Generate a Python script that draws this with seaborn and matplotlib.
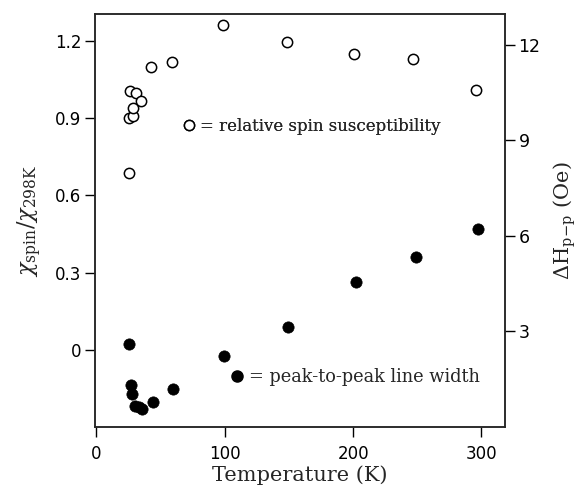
import numpy as np
import pandas as pd
import matplotlib
matplotlib.use('Agg')
import matplotlib.pyplot as plt
import seaborn as sns
from matplotlib.lines import Line2D

# relative spin susceptibility (left axis)
spin_T = [25.4, 25.6, 28.7, 26.4, 28.7, 31.0, 34.7, 42.5, 58.8, 98.4, 148.2, 201.0, 247.0, 295.8]
spin_chi = [0.687, 0.900, 0.908, 1.005, 0.939, 0.997, 0.966, 1.100, 1.120, 1.262, 1.195, 1.152, 1.130, 1.010]

# peak-to-peak line width (right axis, Oe)
width_T = [25.6, 26.7, 27.7, 30.3, 32.9, 35.5, 44.0, 60.0, 99.5, 149.4, 202.6, 248.6, 297.0]
width_H = [2.61, 1.30, 1.04, 0.66, 0.61, 0.57, 0.78, 1.20, 2.24, 3.13, 4.54, 5.35, 6.22]

x_ticks = [0, 100, 200, 300]
left_ticks = [0, 0.3, 0.6, 0.9, 1.2]
right_ticks = [3, 6, 9, 12]

df_spin = pd.DataFrame({'T': spin_T, 'chi': spin_chi})
df_width = pd.DataFrame({'T': width_T, 'H': width_H})

sns.set_style('ticks')
plt.rcParams['font.family'] = ['DejaVu Sans']
plt.rcParams['mathtext.fontset'] = 'dejavuserif'
plt.rcParams['axes.linewidth'] = 1.1

fig = plt.figure(figsize=(5.84, 4.90), dpi=100)
ax = fig.add_axes([0.163, 0.129, 0.701, 0.842])
ax2 = ax.twinx()

sns.scatterplot(data=df_spin, x='T', y='chi', ax=ax, marker='o', s=55,
                facecolor='white', edgecolor='black', linewidth=1.1, zorder=3)
sns.scatterplot(data=df_width, x='T', y='H', ax=ax2, marker='o', s=66,
                color='black', edgecolor='black', linewidth=0.5, zorder=3)

ax.set_xlim(-1, 318)
ax.set_ylim(-0.3, 1.305)
ax2.set_ylim(0.0, 12.97)

ax.set_xticks(x_ticks)
ax.set_yticks(left_ticks)
ax.set_yticklabels(['0', '0.3', '0.6', '0.9', '1.2'])
ax2.set_yticks(right_ticks)

for a in (ax, ax2):
    a.tick_params(direction='out', length=7, width=1.0, labelsize=12, colors='black')
    for s in a.spines.values():
        s.set_visible(True)
        s.set_linewidth(1.1)
ax.tick_params(axis='x', pad=6)
ax.tick_params(axis='y', pad=3)
ax2.tick_params(axis='y', pad=3, labelsize=12.5)

ax.set_xlabel('Temperature (K)', family='DejaVu Serif', fontsize=15, labelpad=2)
ax.set_ylabel(r'$\chi_{\rm spin}/\chi_{\rm 298K}$', fontsize=16, labelpad=8)
ax2.set_ylabel(r'$\Delta \mathrm{H}_{\rm p\!-\!p}$ (Oe)', family='DejaVu Serif', fontsize=15, labelpad=8)

h1 = Line2D([], [], linestyle='none', marker='o', markersize=7.3,
            markerfacecolor='white', markeredgecolor='black', markeredgewidth=1.1)
h2 = Line2D([], [], linestyle='none', marker='o', markersize=8.0,
            markerfacecolor='black', markeredgecolor='black')
leg1 = ax.legend([h1], ['= relative spin susceptibility'], loc='center left',
                 bbox_to_anchor=(0.217, 0.728), frameon=False, handlelength=0.6,
                 handletextpad=0.35, borderpad=0, borderaxespad=0,
                 prop={'family': 'DejaVu Serif', 'size': 12})
ax.add_artist(leg1)
ax2.legend([h2], ['= peak-to-peak line width'], loc='center left',
           bbox_to_anchor=(0.334, 0.12), frameon=False, handlelength=0.6,
           handletextpad=0.35, borderpad=0, borderaxespad=0,
           prop={'family': 'DejaVu Serif', 'size': 12.8})

fig.savefig('out.png', dpi=100)
